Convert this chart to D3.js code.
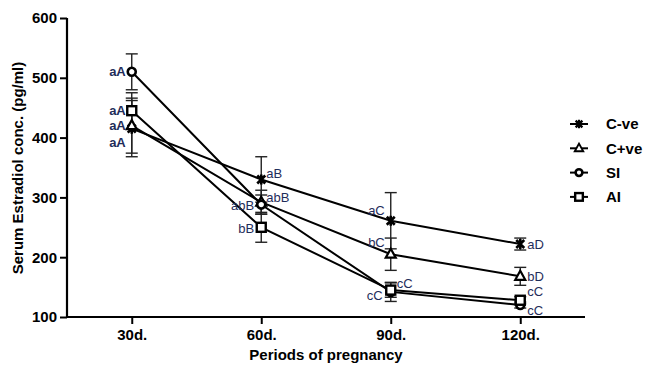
<!DOCTYPE html>
<html>
<head>
<meta charset="utf-8">
<script src="https://cdn.jsdelivr.net/npm/d3@7"></script>
<style>
	body { margin: 0; background: #fff; }
	text { font-family: Arial, "Liberation Sans", sans-serif; }
</style>
</head>
<body>
<svg id="chart" width="647" height="365"></svg>
<script>

// Data

var periods = ["30d.", "60d.", "90d.", "120d."];
var yTicks = [100, 200, 300, 400, 500, 600];

var seriesNames = ["C-ve", "C+ve", "SI", "AI"];

var cNeg = [415, 330, 261, 222];
var cNegErr = [47, 38, 47, 10];
var cNegLetters = ["aA", "aB", "aC", "aD"];

var cPos = [420, 292, 205, 168];
var cPosErr = [46, 20, 27, 15];
var cPosLetters = ["aA", "abB", "bC", "bD"];

var si = [510, 288, 142, 120];
var siErr = [30, 16, 16, 5];
var siLetters = ["aA", "abB", "cC", "cC"];

var ai = [445, 250, 145, 128];
var aiErr = [30, 25, 12, 6];
var aiLetters = ["aA", "bB", "cC", "cC"];

var series = [
	{name: seriesNames[0], shape: "cross", values: cNeg, err: cNegErr, letters: cNegLetters},
	{name: seriesNames[1], shape: "triangle", values: cPos, err: cPosErr, letters: cPosLetters},
	{name: seriesNames[2], shape: "circle", values: si, err: siErr, letters: siLetters},
	{name: seriesNames[3], shape: "square", values: ai, err: aiErr, letters: aiLetters}
];

// where each letter label sits relative to its point [dx, dy, anchor]
var labelPlacement = {
	"C-ve": [[-6, 14, "end"], [5, -6, "start"], [-6, -10, "end"], [7, 0, "start"]],
	"C+ve": [[-6, 0, "end"], [5, -5, "start"], [-6, -12, "end"], [7, 0, "start"]],
	"SI":   [[-6, 0, "end"], [-7, 1, "end"], [-8, 4, "end"], [7, 5, "start"]],
	"AI":   [[-6, 0, "end"], [-7, 1, "end"], [6, -7, "start"], [7, -9, "start"]]
};

var svg = d3.select("#chart");

var x = d3.scaleLinear().domain([0.5, 4.5]).range([67, 585]);
var y = d3.scaleLinear().domain([100, 600]).range([317, 18]);

var labelColor = "#1f2d5a";

// Axes

var yAxis = svg.append("g")
.attr("transform", "translate(67,0)")
.call(d3.axisLeft(y).tickValues(yTicks).tickSize(7).tickPadding(3));

var xAxis = svg.append("g")
.attr("transform", "translate(0,317)")
.call(d3.axisBottom(x).tickValues([1, 2, 3, 4]).tickFormat(function (d) { return periods[d - 1]; }).tickSize(7).tickPadding(5));

[yAxis, xAxis].forEach(function (ax) {
	ax.select(".domain").attr("stroke", "#000").attr("stroke-width", 2.2);
	ax.selectAll(".tick line").attr("stroke", "#000").attr("stroke-width", 2);
	ax.selectAll(".tick text")
	.attr("fill", "#000")
	.style("font-size", "15px")
	.style("font-weight", "bold");
});
yAxis.select(".domain").attr("d", "M0,317V18");
xAxis.select(".domain").attr("d", "M67,0H585");

svg.append("text")
.attr("transform", "translate(23,168) rotate(-90)")
.attr("text-anchor", "middle")
.style("font-size", "15px")
.style("font-weight", "bold")
.text("Serum Estradiol conc. (pg/ml)");

svg.append("text")
.attr("x", 326)
.attr("y", 360)
.attr("text-anchor", "middle")
.style("font-size", "15px")
.style("font-weight", "bold")
.text("Periods of pregnancy");

// Lines

var line = d3.line()
.x(function (d, i) { return x(i + 1); })
.y(function (d) { return y(d); });

svg.append("g").selectAll("path")
.data(series)
.enter().append("path")
.attr("d", function (d) { return line(d.values); })
.attr("fill", "none")
.attr("stroke", "#000")
.attr("stroke-width", 2);

// Error bars

var bars = svg.append("g").attr("stroke", "#222").attr("stroke-width", 1.4);

series.forEach(function (s) {
	s.values.forEach(function (v, i) {
		var cx = x(i + 1), top = y(v + s.err[i]), bot = y(v - s.err[i]);
		bars.append("line").attr("x1", cx).attr("x2", cx).attr("y1", top).attr("y2", bot);
		bars.append("line").attr("x1", cx - 6).attr("x2", cx + 6).attr("y1", top).attr("y2", top);
		bars.append("line").attr("x1", cx - 6).attr("x2", cx + 6).attr("y1", bot).attr("y2", bot);
	});
});

// Markers

function drawMarker(g, shape, k) {
	k = k || 1;
	if (shape == "cross") {
		g.append("path").attr("d", "M-4,-4L4,4M-4,4L4,-4M0,-5V5")
		.attr("transform", "scale(" + k + ")")
		.attr("stroke", "#000").attr("stroke-width", 2.6);
	} else if (shape == "triangle") {
		g.append("path").attr("d", "M0,-5.5L5,3.5L-5,3.5Z")
		.attr("transform", "scale(" + k + ")")
		.attr("fill", "#fff").attr("stroke", "#000").attr("stroke-width", 2.2);
	} else if (shape == "circle") {
		g.append("circle").attr("r", 4 * k)
		.attr("fill", "#fff").attr("stroke", "#000").attr("stroke-width", 2.6);
	} else {
		g.append("rect").attr("x", -4.5 * k).attr("y", -4.5 * k).attr("width", 9 * k).attr("height", 9 * k)
		.attr("fill", "#fff").attr("stroke", "#000").attr("stroke-width", 2.4);
	}
}

series.forEach(function (s) {
	s.values.forEach(function (v, i) {
		var g = svg.append("g").attr("transform", "translate(" + x(i + 1) + "," + y(v) + ")");
		drawMarker(g, s.shape);
	});
});

// Letter labels

series.forEach(function (s) {
	s.values.forEach(function (v, i) {
		var p = labelPlacement[s.name][i];
		svg.append("text")
		.attr("x", x(i + 1) + p[0])
		.attr("y", y(v) + p[1])
		.attr("dy", "0.35em")
		.attr("text-anchor", p[2])
		.attr("fill", labelColor)
		.style("font-size", "13px")
		.style("font-weight", i == 0 ? "bold" : "normal")
		.text(s.letters[i]);
	});
});

// Legend

var legend = svg.append("g").selectAll("g")
.data(series)
.enter().append("g")
.attr("transform", function (d, i) { return "translate(579," + (124 + i * 24.3) + ")"; });

legend.append("line")
.attr("x1", -9).attr("x2", 9)
.attr("stroke", "#000").attr("stroke-width", 2);

legend.each(function (d) { drawMarker(d3.select(this), d.shape, 0.85); });

legend.append("text")
.attr("x", 27)
.attr("dy", "0.36em")
.style("font-size", "15px")
.style("font-weight", "bold")
.text(function (d) { return d.name; });

</script>
</body>
</html>
